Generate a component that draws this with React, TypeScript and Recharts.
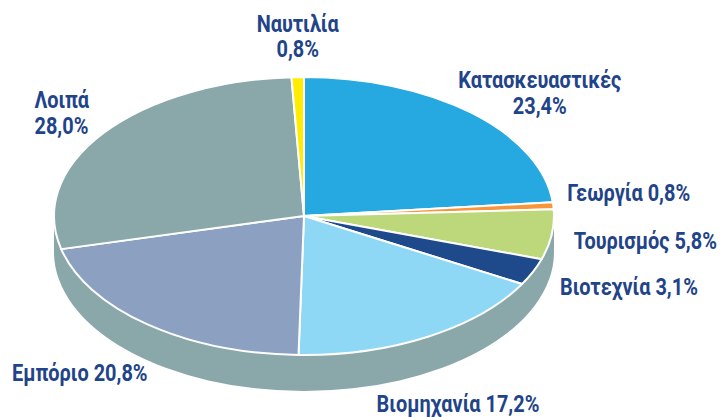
import React from 'react';
import { PieChart, Pie, Cell } from 'recharts';

const categories = ['Κατασκευαστικές', 'Γεωργία', 'Τουρισμός', 'Βιοτεχνία', 'Βιομηχανία', 'Εμπόριο', 'Λοιπά', 'Ναυτιλία'];
const shares = [23.4, 0.8, 5.8, 3.1, 17.2, 20.8, 28.0, 0.8];
const percentLabels = ['23,4%', '0,8%', '5,8%', '3,1%', '17,2%', '20,8%', '28,0%', '0,8%'];
const colors = ['#25A9E0', '#F7953A', '#BDD87A', '#1E4A8C', '#8ED8F6', '#8CA0C2', '#8AA8A9', '#FFEC00'];
const sideData = [{ name: 'side', value: 1 }];

const data = categories.map((name, i) => ({ name, value: shares[i], pct: percentLabels[i] }));

// layout config (not data)
const CX = 304;
const CY = 216;
const RADIUS = 250;
const TILT = 0.556;
const DEPTH = 36;
const SIDE_COLOR = '#8AA8A9';
const TEXT_COLOR = '#1F4489';
const FONT = "Roboto, 'Noto Sans', sans-serif";
const FONT_SIZE = 24;
const SQUEEZE = 0.83;

type LabelPos = { dx: number; dy: number[]; anchor: 'start' | 'middle' | 'end'; twoLines: boolean };
const labelLayout: LabelPos[] = [
  { dx: 68, dy: [-25, 1], anchor: 'middle', twoLines: true },
  { dx: 14, dy: [-5], anchor: 'start', twoLines: false },
  { dx: 22, dy: [14], anchor: 'start', twoLines: false },
  { dx: 27, dy: [23.5], anchor: 'start', twoLines: false },
  { dx: 30, dy: [75], anchor: 'middle', twoLines: false },
  { dx: 0, dy: [56.5], anchor: 'end', twoLines: false },
  { dx: -69, dy: [-25, 1], anchor: 'start', twoLines: true },
  { dx: 0, dy: [-45, -20], anchor: 'middle', twoLines: true },
];

const RAD = Math.PI / 180;
function ellPt(cx: number, cy: number, rx: number, ry: number, a: number): [number, number] {
  return [cx + rx * Math.cos(a * RAD), cy - ry * Math.sin(a * RAD)];
}

function EllipseSector(props: any) {
  const { cx, cy, outerRadius, startAngle, endAngle, fill } = props;
  const rx = outerRadius;
  const ry = outerRadius * TILT;
  const [x1, y1] = ellPt(cx, cy, rx, ry, startAngle);
  const [x2, y2] = ellPt(cx, cy, rx, ry, endAngle);
  const delta = Math.abs(startAngle - endAngle);
  const large = delta > 180 ? 1 : 0;
  const sweep = startAngle > endAngle ? 1 : 0;
  return (
    <path
      d={`M${cx},${cy} L${x1},${y1} A${rx},${ry} 0 ${large} ${sweep} ${x2},${y2} Z`}
      fill={fill}
      stroke="#ffffff"
      strokeWidth={2}
      strokeLinejoin="round"
    />
  );
}

function SideShape(props: any) {
  const { cx, cy, outerRadius } = props;
  const rx = outerRadius;
  const ry = outerRadius * TILT;
  const d = `M${cx - rx},${cy} A${rx},${ry} 0 0 0 ${cx + rx},${cy} L${cx + rx},${cy + DEPTH} A${rx},${ry} 0 0 1 ${cx - rx},${cy + DEPTH} Z`;
  return <path d={d} fill={SIDE_COLOR} stroke="none" />;
}

function LabelText({ x, y, anchor, children }: any) {
  return (
    <text
      transform={`translate(${x},${y}) scale(${SQUEEZE},1)`}
      x={0}
      y={0}
      textAnchor={anchor}
      fill={TEXT_COLOR}
      fontFamily={FONT}
      fontWeight={700}
      fontSize={FONT_SIZE}
    >
      {children}
    </text>
  );
}

function renderLabel(props: any) {
  const { cx, cy, outerRadius, midAngle, index } = props;
  const rx = outerRadius;
  const ry = outerRadius * TILT;
  const [px, py] = ellPt(cx, cy, rx, ry, midAngle);
  const lay = labelLayout[index];
  const x = px + lay.dx;
  if (lay.twoLines) {
    return (
      <g key={`lbl-${index}`}>
        <LabelText x={x} y={py + lay.dy[0]} anchor={lay.anchor}>{categories[index]}</LabelText>
        <LabelText x={x} y={py + lay.dy[1]} anchor={lay.anchor}>{percentLabels[index]}</LabelText>
      </g>
    );
  }
  return (
    <g key={`lbl-${index}`}>
      <LabelText x={x} y={py + lay.dy[0]} anchor={lay.anchor}>
        {`${categories[index]} ${percentLabels[index]}`}
      </LabelText>
    </g>
  );
}

export default function App() {
  return (
    <div style={{ position: 'absolute', left: 0, top: 0, width: 722, height: 417, background: '#fff' }}>
      <PieChart width={722} height={417} margin={{ top: 0, right: 0, bottom: 0, left: 0 }}>
        <Pie
          data={sideData}
          dataKey="value"
          cx={CX}
          cy={CY}
          outerRadius={RADIUS}
          startAngle={90}
          endAngle={-270}
          isAnimationActive={false}
          shape={SideShape}
          label={false}
          labelLine={false}
          stroke="none"
        >
          <Cell fill={SIDE_COLOR} />
        </Pie>
        <Pie
          data={data}
          dataKey="value"
          nameKey="name"
          cx={CX}
          cy={CY}
          outerRadius={RADIUS}
          startAngle={90}
          endAngle={-270}
          isAnimationActive={false}
          shape={EllipseSector}
          label={renderLabel}
          labelLine={false}
          stroke="#ffffff"
        >
          {data.map((d, i) => (
            <Cell key={d.name} fill={colors[i]} />
          ))}
        </Pie>
      </PieChart>
    </div>
  );
}
